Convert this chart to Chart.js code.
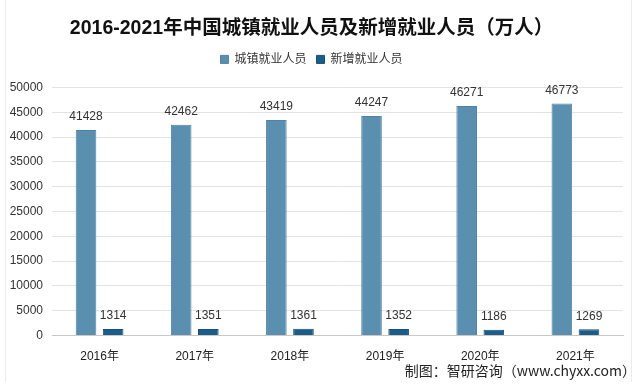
<!DOCTYPE html>
<html>
<head>
<meta charset="utf-8">
<script src="https://cdn.jsdelivr.net/npm/chart.js@4/dist/chart.umd.min.js"></script>
<style>
  html, body { margin: 0; padding: 0; background: #ffffff; }
  #wrap { position: relative; width: 640px; height: 384px; }
  #frame { position: absolute; left: 5px; top: 0; width: 627px; height: 382px; border-left: 1px solid #ececec; border-right: 1px solid #ececec; box-sizing: border-box; pointer-events: none; }
  #src { position: absolute; right: 4px; top: 360px; font: 14px "Noto Sans CJK SC", "Liberation Sans", sans-serif; color: #222; white-space: nowrap; }
</style>
</head>
<body>
<div id="wrap">
  <canvas id="c" width="640" height="384"></canvas>
  <div id="frame"></div>
  <div id="src">制图：智研咨询（www.chyxx.com）</div>
</div>
<script>
const categories = ['2016年', '2017年', '2018年', '2019年', '2020年', '2021年'];
const urbanEmployed = [41428, 42462, 43419, 44247, 46271, 46773];
const newEmployed = [1314, 1351, 1361, 1352, 1186, 1269];
const yTicks = [0, 5000, 10000, 15000, 20000, 25000, 30000, 35000, 40000, 45000, 50000];
const seriesNames = ['城镇就业人员', '新增就业人员'];
const titleText = '2016-2021年中国城镇就业人员及新增就业人员（万人）';

const FONT = '"Liberation Sans", "Noto Sans CJK SC", sans-serif';

const legendSpacing = {
  id: 'legendSpacing',
  beforeInit(chart) {
    const orig = chart.legend.fit;
    chart.legend.fit = function () {
      orig.bind(chart.legend)();
      this.height += 12;
    };
  }
};

const valueLabels = {
  id: 'valueLabels',
  afterDatasetsDraw(chart) {
    const ctx = chart.ctx;
    ctx.save();
    ctx.font = '12px ' + FONT;
    ctx.fillStyle = '#333333';
    ctx.textAlign = 'center';
    ctx.textBaseline = 'bottom';
    chart.data.datasets.forEach((ds, i) => {
      const meta = chart.getDatasetMeta(i);
      meta.data.forEach((bar, j) => {
        ctx.fillText(String(ds.data[j]), bar.x, bar.y - 7);
      });
    });
    ctx.restore();
  }
};

new Chart(document.getElementById('c'), {
  type: 'bar',
  data: {
    labels: categories,
    datasets: [
      { label: seriesNames[0], data: urbanEmployed, backgroundColor: '#5b8fb0', borderColor: '#4f83a4', borderWidth: 1, categoryPercentage: 0.57, barPercentage: 0.76 },
      { label: seriesNames[1], data: newEmployed, backgroundColor: '#1c5c88', borderColor: '#174f77', borderWidth: 1, categoryPercentage: 0.57, barPercentage: 0.76 }
    ]
  },
  options: {
    responsive: false,
    animation: false,
    layout: { padding: { left: 0, right: 17, top: 0, bottom: 14 } },
    plugins: {
      title: {
        display: true,
        text: titleText,
        color: '#111111',
        font: { family: FONT, size: 19.5, weight: 'bold' },
        padding: { top: 17, bottom: 3 }
      },
      legend: {
        display: true,
        labels: {
          boxWidth: 8,
          boxHeight: 8,
          padding: 10,
          color: '#333333',
          font: { family: FONT, size: 12 }
        }
      },
      tooltip: { enabled: false }
    },
    scales: {
      x: {
        grid: { display: false },
        border: { color: '#c8c8c8' },
        ticks: { color: '#222222', font: { family: FONT, size: 12 }, padding: 6 }
      },
      y: {
        min: 0,
        max: 50000,
        afterBuildTicks(scale) { scale.ticks = yTicks.map(v => ({ value: v })); },
        afterFit(scale) { scale.width = 52; },
        grid: { color: '#e3e3e3', drawTicks: false },
        border: { display: false },
        ticks: { color: '#333333', font: { family: FONT, size: 12 }, padding: 9, callback: v => String(v) }
      }
    }
  },
  plugins: [legendSpacing, valueLabels]
});
</script>
</body>
</html>
